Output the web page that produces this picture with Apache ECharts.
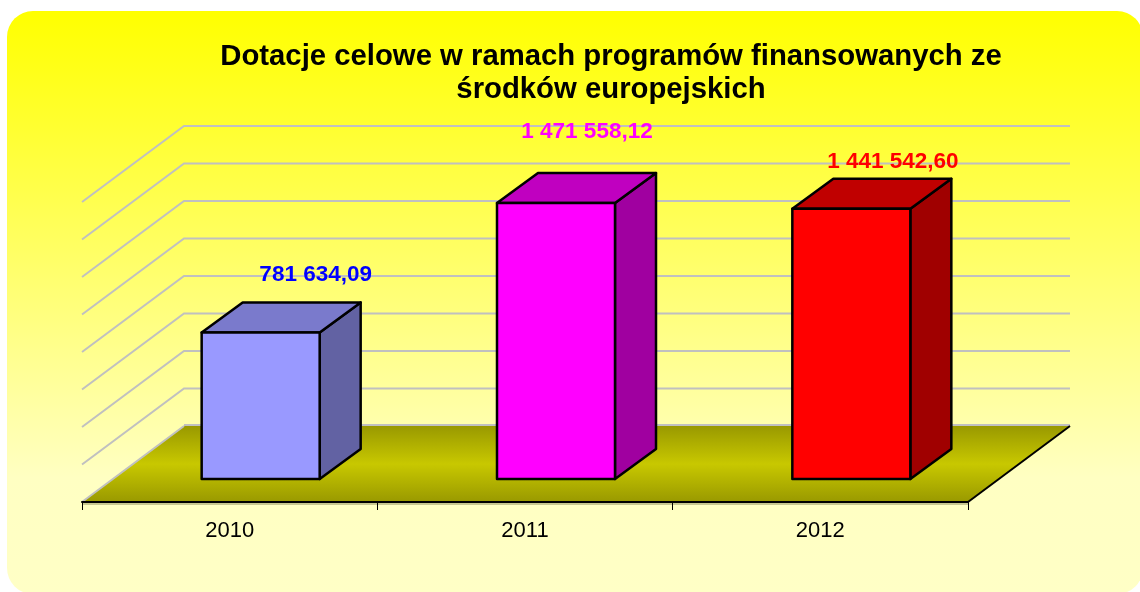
<!DOCTYPE html>
<html>
<head>
<meta charset="utf-8">
<style>html,body{margin:0;padding:0;background:#fff}#c{width:1140px;height:592px}</style>
<script src="https://cdn.jsdelivr.net/npm/echarts@6/dist/echarts.min.js"></script>
</head>
<body>
<div id="c"></div>
<script>
const titleText = 'Dotacje celowe w ramach programów finansowanych ze\nśrodków europejskich';
const categories = ['2010', '2011', '2012'];
const values = [781634.09, 1471558.12, 1441542.60];
const gridTicks = [200000, 400000, 600000, 800000, 1000000, 1200000, 1400000, 1600000];
const frontColors = ['#9999ff', '#ff00ff', '#ff0000'];
const topColors = ['#7a7acc', '#c000c0', '#c00000'];
const sideColors = ['#6262a3', '#a000a0', '#a00000'];
const labelColors = ['#0000ff', '#ff00ff', '#ff0000'];

const WALL = [102, -76], BAR_OFF = [31, -23], BAR_D = [41, -30], BAR_W = 118;
const LABEL_SHIFT = [[55, -58], [31, -71], [41.5, -47]];
const fmt = v => v.toFixed(2).replace('.', ',').replace(/\B(?=(\d{3})+(?!\d))/g, ' ');

const chart = echarts.init(document.getElementById('c'));
chart.setOption({
  animation: false,
  backgroundColor: '#ffffff',
  graphic: [{
    type: 'rect', z: -10, silent: true,
    shape: { x: 7, y: 11, width: 1136, height: 583, r: 26 },
    style: { fill: new echarts.graphic.LinearGradient(0, 0, 0, 1, [
      { offset: 0, color: '#ffff00' },
      { offset: 0.8, color: '#ffffc2' },
      { offset: 1, color: '#ffffc6' }]) }
  }],
  title: {
    text: titleText, left: 606, top: 35, textAlign: 'center',
    textStyle: { fontFamily: 'Liberation Sans', fontWeight: 'bold', fontSize: 29.3, lineHeight: 33, color: '#000' }
  },
  grid: { left: 82, top: 202, width: 886, height: 300 },
  xAxis: {
    type: 'category', data: categories, z: 6,
    axisLine: { lineStyle: { color: '#000', width: 2 } },
    axisTick: { show: true, length: 8, lineStyle: { color: '#000', width: 1 } },
    axisLabel: { color: '#000', fontFamily: 'Liberation Sans', fontSize: 22, margin: 18 }
  },
  yAxis: { type: 'value', min: 0, max: 1600000, interval: 200000, show: false, splitLine: { show: false } },
  series: [
    {
      type: 'custom', silent: true, clip: false, z: 1,
      data: gridTicks.map(t => [0, t]),
      renderItem(p, api) {
        const g = p.coordSys, y = api.coord([0, api.value(1)])[1];
        const pts = [[g.x, y], [g.x + WALL[0], y + WALL[1]], [g.x + g.width + WALL[0], y + WALL[1]]];
        return { type: 'polyline', shape: { points: pts }, style: { fill: 'none', stroke: '#c0c0c0', lineWidth: 2 } };
      }
    },
    {
      type: 'custom', silent: true, clip: false, z: 2,
      data: [[0, 0]],
      renderItem(p, api) {
        const g = p.coordSys, y = g.y + g.height;
        return { type: 'group', children: [
          { type: 'line', shape: { x1: g.x + WALL[0], y1: y + WALL[1] - 1, x2: g.x + g.width + WALL[0], y2: y + WALL[1] - 1 },
            style: { stroke: '#c0c0c0', lineWidth: 2 } },
          { type: 'line', shape: { x1: g.x, y1: y + 2, x2: g.x + g.width, y2: y + 2 },
            style: { stroke: '#c8c890', lineWidth: 2 } },
          { type: 'polygon',
            shape: { points: [[g.x, y], [g.x + g.width, y], [g.x + g.width + WALL[0], y + WALL[1]], [g.x + WALL[0], y + WALL[1]]] },
            style: { fill: new echarts.graphic.LinearGradient(0, 0, 0, 1, [
              { offset: 0, color: '#999900' }, { offset: 0.5, color: '#c8c800' }, { offset: 1, color: '#999900' }]) } },
          { type: 'line', shape: { x1: g.x, y1: y, x2: g.x + WALL[0], y2: y + WALL[1] },
            style: { stroke: '#c0c0c0', lineWidth: 2 } },
          { type: 'line', shape: { x1: g.x + g.width, y1: y, x2: g.x + g.width + WALL[0], y2: y + WALL[1] },
            style: { stroke: '#000', lineWidth: 2 } }
        ] };
      }
    },
    {
      type: 'custom', silent: true, clip: false, z: 3,
      data: values.map((v, i) => [i, v]),
      renderItem(p, api) {
        const i = api.value(0), v = api.value(1);
        const base = api.coord([i, 0]), top = api.coord([i, v]);
        const x0 = base[0] + BAR_OFF[0] - BAR_W / 2, x1 = x0 + BAR_W;
        const y0 = base[1] + BAR_OFF[1], y1 = top[1] + BAR_OFF[1];
        const dx = BAR_D[0], dy = BAR_D[1];
        const st = c => ({ fill: c, stroke: '#000', lineWidth: 2.5, lineJoin: 'round' });
        return { type: 'group', children: [
          { type: 'polygon', shape: { points: [[x1, y1], [x1 + dx, y1 + dy], [x1 + dx, y0 + dy], [x1, y0]] }, style: st(sideColors[i]) },
          { type: 'polygon', shape: { points: [[x0, y1], [x0 + dx, y1 + dy], [x1 + dx, y1 + dy], [x1, y1]] }, style: st(topColors[i]) },
          { type: 'rect', shape: { x: x0, y: y1, width: BAR_W, height: y0 - y1 }, style: st(frontColors[i]) },
          { type: 'text', x: base[0] + BAR_OFF[0] + LABEL_SHIFT[i][0], y: y1 + LABEL_SHIFT[i][1],
            style: { text: fmt(v), fill: labelColors[i], font: 'bold 22.5px "Liberation Sans"', align: 'center', verticalAlign: 'middle' } }
        ] };
      }
    }
  ]
});
</script>
</body>
</html>
